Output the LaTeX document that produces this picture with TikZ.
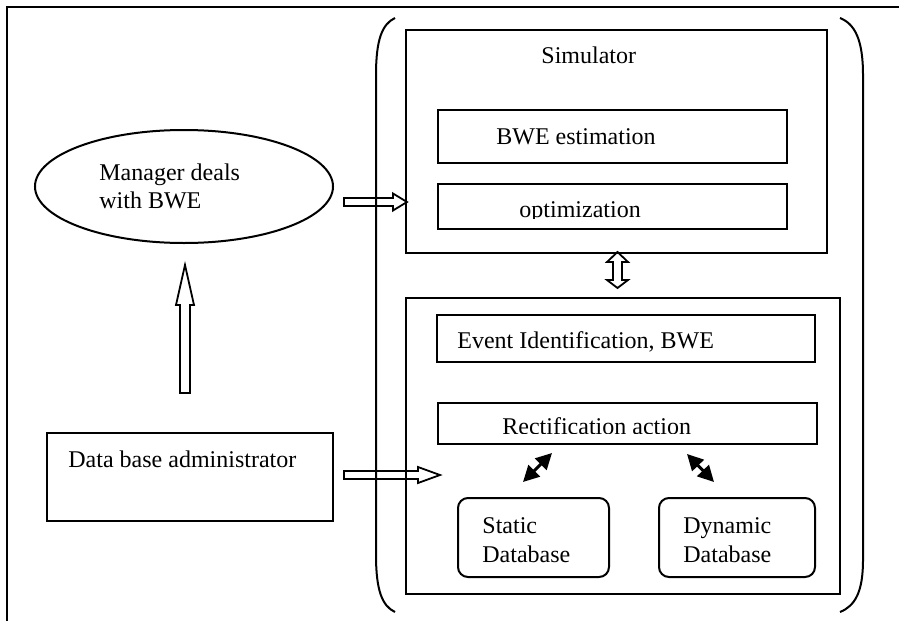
\documentclass[tikz,border=0pt]{standalone}
\usepackage{fontspec}
\setmainfont{Liberation Serif}
\usetikzlibrary{shapes.geometric,fit,arrows.meta}
\begin{document}
\begin{tikzpicture}[x=0.5pt,y=-0.5pt,
  box/.style={draw, line width=1pt, inner sep=0pt, rectangle},
  rbox/.style={box, rounded corners=5pt},
  txt/.style={font=\fontsize{12}{14}\selectfont, inner sep=0pt, anchor=base west},
  blockarrow/.style={draw, line width=0.9pt, line join=miter},
  dblarrow/.style={line width=1.5pt, {Triangle[length=8pt,width=8pt]}-{Triangle[length=8pt,width=8pt]}},
  bracket/.style={draw, line width=1pt},
  frame/.style={draw, line width=1.2pt}]
\useasboundingbox (0,0) rectangle (899,621);

% outer frame
\draw[frame] (7,621) -- (7,7) -- (899,7);

% brackets
\draw[bracket] (395,18) .. controls (382,24) and (376,40) .. (376,75) -- (376,555) .. controls (376,590) and (382,606) .. (395,612);
\draw[bracket] (840,18) .. controls (855,24) and (863,40) .. (863,75) -- (863,560) .. controls (863,592) and (855,606) .. (840,612);

% simulator block
\node[box, fit={(406,30) (827,253)}] (sim) {};
\node[txt] (simt) at (541,63) {Simulator};
\node[box, fit={(438,110) (787,163)}] (bwe) {};
\node[txt] (bwet) at (496,144) {BWE estimation};
\node[box, fit={(438,184) (787,229)}] (opt) {};
\begin{scope}
  \clip (438,184) rectangle (787,218.5);
  \node[txt] (optt) at (519,217) {optimization};
\end{scope}

% lower block
\node[box, fit={(406,298) (840,594)}] (low) {};
\node[box, fit={(437,315) (815,362)}] (evt) {};
\node[txt] (evtt) at (457,348) {Event Identification, BWE};
\node[box, fit={(438,403) (817,444)}] (rect) {};
\begin{scope}
  \clip (438,403) rectangle (817,433.5);
  \node[txt] (rectt) at (502,434.5) {Rectification action};
\end{scope}
\node[rbox, fit={(458,498) (609,577)}] (stat) {};
\node[txt] (statt1) at (482,533) {Static};
\node[txt] (statt2) at (482,562) {Database};
\node[rbox, fit={(659,498) (815,577)}] (dyn) {};
\node[txt] (dynt1) at (683,533) {Dynamic};
\node[txt] (dynt2) at (683,562) {Database};

% left side
\node[draw, ellipse, line width=1pt, minimum width=149pt, minimum height=56.5pt, inner sep=0pt] (mgr) at (184,186.5) {};
\node[txt] (mgrt1) at (99,180) {Manager deals};
\node[txt] (mgrt2) at (99,208) {with BWE};
\node[box, fit={(47,433) (333,521)}] (dba) {};
\node[txt] (dbat) at (68,467) {Data base administrator};

% block arrows
\draw[blockarrow] (344,198) -- (393,198) -- (393,193.5) -- (407,202) -- (393,210.5) -- (393,206) -- (344,206) -- cycle;
\draw[blockarrow] (344,471) -- (418,471) -- (418,467) -- (440,475) -- (418,483) -- (418,479) -- (344,479) -- cycle;
\draw[blockarrow] (180,393) -- (180,305) -- (176,305) -- (185,265) -- (194,305) -- (190,305) -- (190,393) -- cycle;
\draw[blockarrow] (613,262) -- (607,262) -- (617.5,252) -- (628,262) -- (622,262) -- (622,280) -- (628,280) -- (617.5,288) -- (607,280) -- (613,280) -- cycle;

% small double arrows
\coordinate (a1) at (523,482);
\coordinate (a2) at (552,453);
\coordinate (b1) at (687,454);
\coordinate (b2) at (714,482);
\draw[dblarrow] (a1) -- (a2);
\draw[dblarrow] (b1) -- (b2);
\end{tikzpicture}
\end{document}
